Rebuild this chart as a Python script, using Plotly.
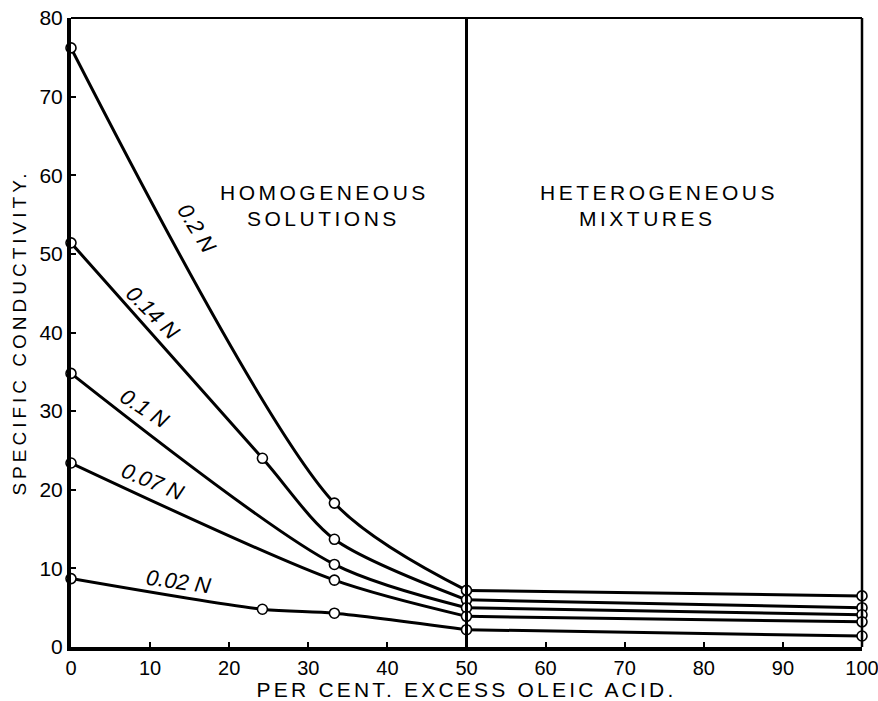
import plotly.graph_objects as go

# ---- data ----
c020_x = [0, 33.3, 50, 100]
c020_y = [76.2, 18.3, 7.2, 6.5]
c014_x = [0, 24.2, 33.3, 50, 100]
c014_y = [51.4, 24.0, 13.7, 6.0, 5.0]
c010_x = [0, 33.3, 50, 100]
c010_y = [34.8, 10.5, 5.0, 4.1]
c007_x = [0, 33.3, 50, 100]
c007_y = [23.4, 8.5, 3.9, 3.2]
c002_x = [0, 24.2, 33.3, 50, 100]
c002_y = [8.7, 4.8, 4.3, 2.2, 1.4]

series_names = ["0.2 N", "0.14 N", "0.1 N", "0.07 N", "0.02 N"]
boundary = 50
x_ticks = [0, 10, 20, 30, 40, 50, 60, 70, 80, 90, 100]
y_ticks = [0, 10, 20, 30, 40, 50, 60, 70, 80]

series = [
    (c020_x, c020_y),
    (c014_x, c014_y),
    (c010_x, c010_y),
    (c007_x, c007_y),
    (c002_x, c002_y),
]

FONT = "Liberation Sans, Arial, sans-serif"

fig = go.Figure()

for name, (xs, ys) in zip(series_names, series):
    lx = [x for x in xs if x <= boundary]
    ly = [y for x, y in zip(xs, ys) if x <= boundary]
    rx = [x for x in xs if x >= boundary]
    ry = [y for x, y in zip(xs, ys) if x >= boundary]
    fig.add_trace(go.Scatter(x=lx, y=ly, mode="lines",
                             line=dict(color="black", width=3, shape="spline", smoothing=0.8),
                             showlegend=False, hoverinfo="skip", name=name, cliponaxis=False))
    fig.add_trace(go.Scatter(x=rx, y=ry, mode="lines",
                             line=dict(color="black", width=3),
                             showlegend=False, hoverinfo="skip", name=name, cliponaxis=False))

for name, (xs, ys) in zip(series_names, series):
    fig.add_trace(go.Scatter(x=xs, y=ys, mode="markers",
                             marker=dict(symbol="circle", size=10, color="white",
                                         line=dict(color="black", width=1.6)),
                             showlegend=False, name=name, cliponaxis=False))

# line labels (italic, rotated along the curves)
label_pos = [
    (15.9, 53.2, 58),
    (10.3, 42.5, 45),
    (9.3, 30.3, 33),
    (10.3, 21.0, 22),
    (13.6, 8.3, 8),
]
for name, (lx, ly, ang) in zip(series_names, label_pos):
    fig.add_annotation(x=lx, y=ly, text=name, showarrow=False, textangle=ang,
                       font=dict(family=FONT, size=22, color="black", style="italic"))

def spaced(t, s):
    return '<span style="letter-spacing:%spx">%s</span>' % (s, t)

region_labels = [
    ("HOMOGENEOUS", 0.186, 0.722),
    ("SOLUTIONS", 0.220, 0.682),
    ("HETEROGENEOUS", 0.590, 0.722),
    ("MIXTURES", 0.640, 0.682),
]
for txt, px, py in region_labels:
    fig.add_annotation(x=px, xref="paper", y=py, yref="paper", xanchor="left", yanchor="middle",
                       text=spaced(txt, 3.5), showarrow=False,
                       font=dict(family=FONT, size=21, color="black"))

# frame: top & right thinner, boundary line at 50
fig.add_shape(type="line", xref="paper", yref="paper", x0=0, x1=1, y0=1, y1=1,
              line=dict(color="black", width=2))
fig.add_shape(type="line", xref="paper", yref="paper", x0=1, x1=1, y0=0, y1=1,
              line=dict(color="black", width=2.5))
fig.add_shape(type="line", xref="x", yref="paper", x0=boundary, x1=boundary, y0=0, y1=1,
              line=dict(color="black", width=3))

fig.update_layout(
    width=878, height=701,
    margin=dict(l=71, r=16, t=18, b=54),
    paper_bgcolor="white", plot_bgcolor="white",
    showlegend=False,
    font=dict(family=FONT, color="black"),
)
fig.update_xaxes(range=[0, 100], tickvals=x_ticks, ticks="inside", ticklen=5, tickwidth=2,
                 tickcolor="black", showline=True, linecolor="black", linewidth=3.5,
                 showgrid=False, zeroline=False, automargin=False, ticklabeloverflow="allow",
                 tickfont=dict(family=FONT, size=20, color="black"),
                 title=dict(text=spaced("PER CENT. EXCESS OLEIC ACID.", 3.2),
                            font=dict(family=FONT, size=21, color="black"), standoff=0))
fig.update_yaxes(range=[0, 80], tickvals=y_ticks, ticks="inside", ticklen=5, tickwidth=2,
                 tickcolor="black", showline=True, linecolor="black", linewidth=4,
                 showgrid=False, zeroline=False, automargin=False, ticklabeloverflow="allow",
                 tickfont=dict(family=FONT, size=21, color="black"),
                 title=dict(text=spaced("SPECIFIC CONDUCTIVITY.", 4),
                            font=dict(family=FONT, size=19, color="black"), standoff=9))

# remove the default 8px page margin so the 878x701 figure fills the window exactly
fig.write_html("out.html", config={"displayModeBar": False},
               post_script="document.body.style.margin='0';document.body.style.overflow='hidden';")
